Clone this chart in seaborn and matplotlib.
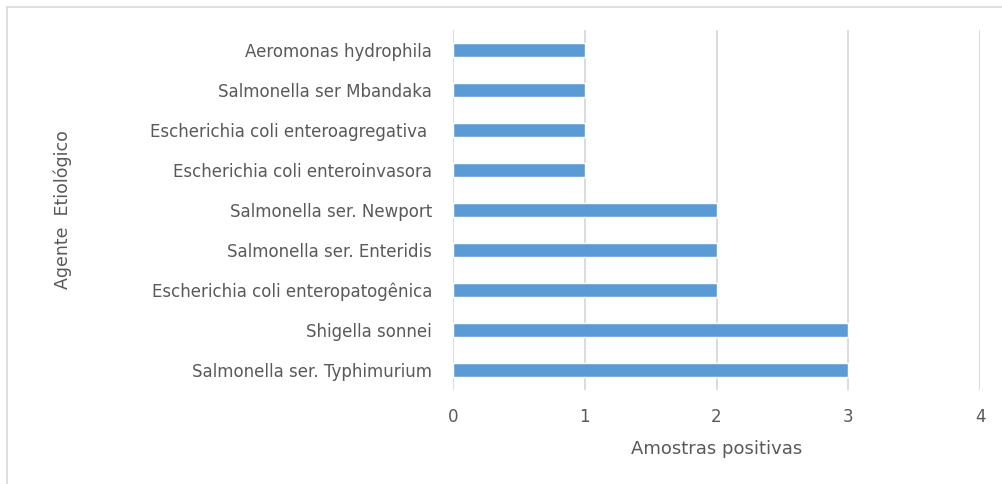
import matplotlib
matplotlib.use("Agg")
import matplotlib.pyplot as plt
from matplotlib.lines import Line2D
import seaborn as sns
import pandas as pd

# Datos
agentes = ['Aeromonas hydrophila',
           'Salmonella ser Mbandaka',
           'Escherichia coli enteroagregativa ',
           'Escherichia coli enteroinvasora',
           'Salmonella ser. Newport',
           'Salmonella ser. Enteridis',
           'Escherichia coli enteropatogênica',
           'Shigella sonnei',
           'Salmonella ser. Typhimurium']
amostras = [1, 1, 1, 1, 2, 2, 2, 3, 3]

df = pd.DataFrame({'Agente': agentes, 'Amostras': amostras})

sns.set_style('white')
plt.rcParams['font.family'] = ['DejaVu Sans']
gris = '#595959'

fig = plt.figure(figsize=(10.03, 4.84), dpi=100)
ax = fig.add_axes([453/1003, 1 - 390/484, (980 - 453)/1003, 360/484])

sns.barplot(data=df, x='Amostras', y='Agente', orient='h', color='#5B9BD5',
            saturation=1, width=0.35, ax=ax)

ax.set_xlim(0, 4)
ax.set_xticks([0, 1, 2, 3, 4])
ax.grid(axis='x', color='#D9D9D9', linewidth=1.3)
ax.set_axisbelow(True)
for s in ax.spines.values():
    s.set_visible(False)
ax.tick_params(axis='y', length=0, labelcolor=gris, labelsize=12, pad=15)
ax.tick_params(axis='x', length=0, labelcolor=gris, labelsize=12, pad=13)

ax.set_xlabel('Amostras positivas', color=gris, fontsize=13, labelpad=10)
ax.set_ylabel('')
fig.text(63/1003, 1 - 210/484, 'Agente  Etiológico', rotation=90, color=gris,
         fontsize=12.5, ha='center', va='center')

# Borde del grafico
fig.add_artist(Line2D([7/1003, 1], [1 - 7/484, 1 - 7/484], color='#D9D9D9', lw=1.2))
fig.add_artist(Line2D([7/1003, 7/1003], [0, 1 - 7/484], color='#D9D9D9', lw=1.2))

fig.savefig('out.png', dpi=100)
